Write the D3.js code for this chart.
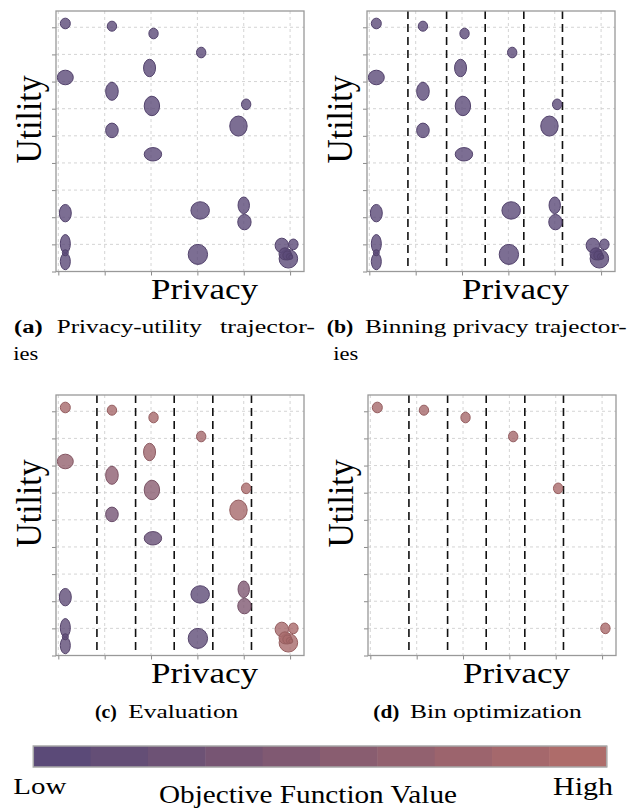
<!DOCTYPE html>
<html><head><meta charset="utf-8">
<script src="https://cdn.jsdelivr.net/npm/d3@7"></script>
<style>body{margin:0;background:#fff;overflow:hidden} svg{display:block}</style>
</head><body>
<script>
// ---- data ----
const privacy = [0.151, 1.157, 2.054, 3.082, 0.151, 1.968, 1.157, 2.019, 4.052, 1.157, 3.886, 2.041, 0.151, 3.06, 4.00, 4.015, 0.151, 0.151, 0.151, 3.011, 4.821, 5.071, 4.963, 4.89, 4.94, 4.985, 5.015];
const utility = [9.14, 9.04, 8.77, 8.07, 7.15, 7.50, 6.64, 6.10, 6.16, 5.20, 5.36, 4.32, 2.15, 2.25, 2.44, 1.82, 1.02, 0.37, 0.69, 0.63, 0.96, 1.00, 0.47, 0.65, 0.59, 0.55, 0.53];
const spreadPrivacy = [0.108, 0.101, 0.101, 0.101, 0.172, 0.129, 0.136, 0.166, 0.101, 0.136, 0.188, 0.188, 0.129, 0.200, 0.123, 0.144, 0.108, 0.108, 0.065, 0.209, 0.144, 0.101, 0.200, 0.129, 0.097, 0.065, 0.043];
const spreadUtility = [0.196, 0.185, 0.196, 0.196, 0.269, 0.321, 0.332, 0.358, 0.196, 0.269, 0.369, 0.247, 0.321, 0.321, 0.306, 0.284, 0.343, 0.306, 0.111, 0.369, 0.269, 0.196, 0.343, 0.221, 0.166, 0.111, 0.074];
const objective = [0.9, 0.9, 0.9, 0.88, 0.68, 0.8, 0.6, 0.55, 0.95, 0.3, 0.9, 0.15, 0.05, 0.04, 0.42, 0.45, 0.05, 0.05, 0.05, 0.05, 0.9, 0.95, 0.93, 0.93, 0.93, 0.93, 0.93];
const binEdges = [0.833, 1.667, 2.5, 3.333, 4.167];
const xTicks = [0, 1, 2, 3, 4, 5];
const yTicks = [0, 1, 2, 3, 4, 5, 6, 7, 8, 9];
const colorbarSteps = [0, 1, 2, 3, 4, 5, 6, 7, 8, 9];

const points = privacy.map((p, i) => ({p, u: utility[i], sp: spreadPrivacy[i], su: spreadUtility[i], v: objective[i], i}));

const W = 248, H = 260.5;
const FONT = "'Liberation Serif', 'Times New Roman', serif";
const color = d3.scaleLinear().domain([0, 1]).range(["#5b4a78", "#ae6c6a"]);
const x = d3.scaleLinear().domain([-0.05, 5.3]).range([0, W]);
const y = d3.scaleLinear().domain([0, 9.6]).range([H, 0]);

const svg = d3.select("body").append("svg").attr("width", 641).attr("height", 809);

function txt(g, tx, ty, str, size, len, weight) {
  return g.append("text").attr("x", tx).attr("y", ty).text(str)
    .attr("font-family", FONT).attr("font-size", size)
    .attr("font-weight", weight || "normal")
    .attr("textLength", len).attr("lengthAdjust", "spacingAndGlyphs")
    .attr("fill", "#000");
}

function bestPerBin(pts) {
  const edges = [-Infinity, ...binEdges, Infinity];
  const out = [];
  for (let b = 0; b < edges.length - 1; b++) {
    const inBin = pts.filter(d => d.p >= edges[b] && d.p < edges[b + 1]);
    if (inBin.length) out.push(inBin.reduce((a, c) => c.u > a.u ? c : a));
  }
  return out;
}

const panels = [
  {key: "a", left: 56, top: 11, mode: "plain"},
  {key: "b", left: 367, top: 11, mode: "bins"},
  {key: "c", left: 56, top: 395, mode: "eval"},
  {key: "d", left: 368, top: 395, mode: "best"}
];

panels.forEach(pn => {
  const g = svg.append("g").attr("transform", `translate(${pn.left},${pn.top})`);
  // grid
  const grid = g.append("g");
  grid.selectAll(".gx").data(xTicks).join("line")
    .attr("x1", d => x(d)).attr("x2", d => x(d)).attr("y1", 0).attr("y2", H)
    .attr("stroke", "#cfcfcf").attr("stroke-width", 0.9).attr("stroke-dasharray", "3,3");
  grid.selectAll(".gy").data(yTicks).join("line")
    .attr("x1", 0).attr("x2", W).attr("y1", d => y(d)).attr("y2", d => y(d))
    .attr("stroke", "#cfcfcf").attr("stroke-width", 0.9).attr("stroke-dasharray", "3,3");
  // axes (tick marks only)
  const ax = g.append("g").attr("transform", `translate(0,${H})`)
    .call(d3.axisBottom(x).tickValues(xTicks).tickSize(4).tickSizeOuter(0).tickFormat(""));
  const ay = g.append("g")
    .call(d3.axisLeft(y).tickValues(yTicks).tickSize(4).tickSizeOuter(0).tickFormat(""));
  [ax, ay].forEach(a => { a.select(".domain").remove(); a.selectAll("line").attr("stroke", "#8a8a8a").attr("stroke-width", 1); });
  // bins
  if (pn.mode !== "plain") {
    g.selectAll(".bin").data(binEdges).join("line")
      .attr("x1", d => x(d)).attr("x2", d => x(d)).attr("y1", 0).attr("y2", H)
      .attr("stroke", "#111").attr("stroke-width", 1.6).attr("stroke-dasharray", "8,5");
  }
  // bubbles
  const data = pn.mode === "best" ? bestPerBin(points) : points;
  const col = d => (pn.mode === "eval" || pn.mode === "best") ? color(d.v) : color(0);
  g.selectAll(".pt").data(data).join("ellipse")
    .attr("cx", d => x(d.p)).attr("cy", d => y(d.u))
    .attr("rx", d => x(d.sp) - x(0)).attr("ry", d => y(0) - y(d.su))
    .attr("fill", col).attr("fill-opacity", 0.8)
    .attr("stroke", d => d3.color(col(d)).darker(0.3)).attr("stroke-width", 1);
  // frame
  g.append("rect").attr("x", 0).attr("y", 0).attr("width", W).attr("height", H)
    .attr("fill", "none").attr("stroke", "#999").attr("stroke-width", 1.3);
  // axis labels
  txt(g, 95, 288, "Privacy", 29, 107);
  const ut = g.append("g").attr("transform", `translate(-15.5,152.5) rotate(-90)`);
  txt(ut, 0, 0, "Utility", 36, 88);
});

// captions
txt(svg, 14, 333, "(a)", 18, 28.7, "bold");
txt(svg, 56.7, 333, "Privacy-utility", 18, 145);
txt(svg, 220, 333, "trajector-", 18, 95);
txt(svg, 13.3, 360, "ies", 18, 25);
txt(svg, 326.7, 333, "(b)", 18, 26.6, "bold");
txt(svg, 365, 333, "Binning privacy trajector-", 18, 261.7);
txt(svg, 333.3, 360, "ies", 18, 25);
txt(svg, 95, 718.3, "(c)", 18, 21.7, "bold");
txt(svg, 128.3, 718.3, "Evaluation", 18, 110);
txt(svg, 373.3, 718.3, "(d)", 18, 26, "bold");
txt(svg, 410, 718.3, "Bin optimization", 18, 171.7);

// colorbar
const cbX = d3.scaleLinear().domain([0, colorbarSteps.length]).range([33.3, 606.7]);
svg.selectAll(".cb").data(colorbarSteps).join("rect")
  .attr("x", d => cbX(d)).attr("y", 746).attr("width", cbX(1) - cbX(0) + 0.5).attr("height", 21)
  .attr("fill", d => color(d / (colorbarSteps.length - 1)));
svg.append("rect").attr("x", 33.3).attr("y", 746).attr("width", cbX(colorbarSteps.length) - cbX(0)).attr("height", 21)
  .attr("fill", "none").attr("stroke", "#a8a8a8").attr("stroke-width", 1.5);
txt(svg, 13.3, 793.5, "Low", 24, 53);
txt(svg, 159, 802.5, "Objective Function Value", 26, 298);
txt(svg, 553, 795, "High", 26, 60);
</script>
</body></html>
